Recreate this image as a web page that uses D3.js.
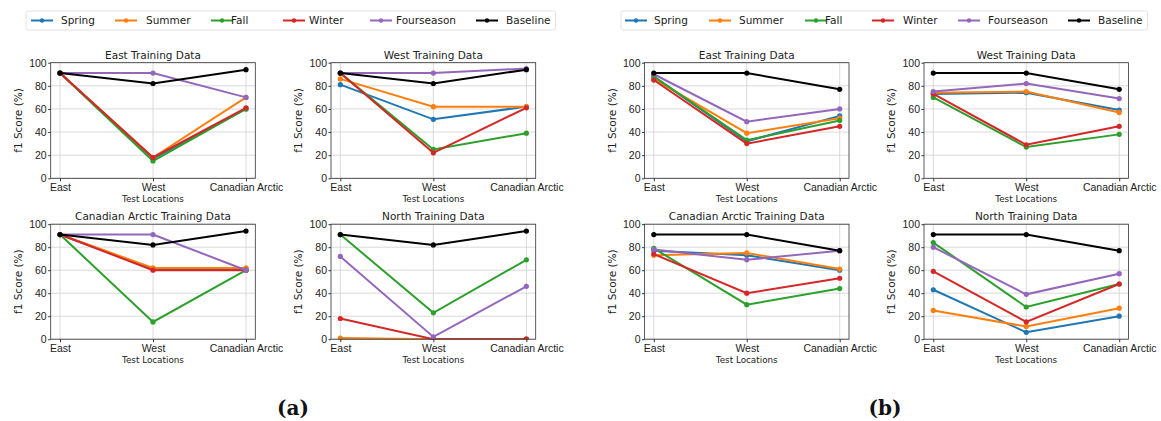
<!DOCTYPE html>
<html lang="en">
<head>
  <meta charset="UTF-8">
  <title>f1 Score by Training Data</title>
  <script src="https://d3js.org/d3.v7.min.js"></script>
  <style>
    body { background: #fff; margin: 0; }
    svg { display: block; font-family: "DejaVu Sans", sans-serif; }
    .grid line { stroke: #d0d0d0; stroke-width: 0.8; }
    .frame { fill: none; stroke: #333; stroke-width: 0.8; }
    .tick text { fill: #222; font-size: 10.5px; }
    .tick line { stroke: #333; }
  </style>
</head>
<body>
  <svg width="1161" height="421"></svg>

  <script>
    // series + categories
    const series = ["Spring", "Summer", "Fall", "Winter", "Fourseason", "Baseline"];
    const colors = ["#1f77b4", "#ff7f0e", "#2ca02c", "#d62728", "#9467bd", "#000000"];
    const locations = ["East", "West", "Canadian Arctic"];
    const titles = ["East Training Data", "West Training Data", "Canadian Arctic Training Data", "North Training Data"];
    const yTicks = [0, 20, 40, 60, 80, 100];

    // (a) values, one row per series: East, West, Canadian Arctic
    const aEast = [[91, 17, 60], [91, 18, 70], [91, 15, 60], [91, 18, 61], [91, 91, 70], [91, 82, 94]];
    const aWest = [[81, 51, 62], [86, 62, 62], [91, 25, 39], [91, 22, 61], [91, 91, 95], [91, 82, 94]];
    const aArctic = [[91, 61, 61], [91, 62, 62], [91, 15, 60], [91, 60, 60], [91, 91, 60], [91, 82, 94]];
    const aNorth = [[0, 0, 0], [1, 0, 0], [91, 23, 69], [18, 0, 0], [72, 2, 46], [91, 82, 94]];

    // (b) values
    const bEast = [[88, 32, 54], [86, 39, 52], [88, 33, 50], [85, 30, 45], [90, 49, 60], [91, 91, 77]];
    const bWest = [[73, 74, 59], [74, 75, 57], [70, 27, 38], [73, 29, 45], [75, 82, 69], [91, 91, 77]];
    const bArctic = [[77, 73, 60], [73, 75, 61], [79, 30, 44], [74, 40, 53], [78, 69, 77], [91, 91, 77]];
    const bNorth = [[43, 6, 20], [25, 11, 27], [84, 28, 48], [59, 15, 48], [80, 39, 57], [91, 91, 77]];

    const svg = d3.select("svg");
    const rowY = [[62.7, 178.3], [224.2, 339.2]];

    const groups = [
      { label: "(a)", labelX: 293, cols: [[50.7, 255.3], [331, 535.7]], data: [aEast, aWest, aArctic, aNorth],
        legendBox: [26, 555.5], lineX: [31, 115, 211, 283, 370, 476], textX: [61, 146, 231, 309, 396, 506] },
      { label: "(b)", labelX: 885, cols: [[644.5, 849], [924, 1128.5]], data: [bEast, bWest, bArctic, bNorth],
        legendBox: [621, 1147.5], lineX: [625, 709, 805, 872, 958, 1068], textX: [654, 739, 825, 903, 988, 1098] }
    ];

    let clipId = 0;

    function drawPanel(x0, x1, y0, y1, title, data) {
      // matplotlib puts 5% margins around the category span
      const x = d3.scaleLinear().domain([-0.1, 2.1]).range([x0, x1]);
      const y = d3.scaleLinear().domain([0, 100]).range([y1, y0]);
      const g = svg.append("g");

      // grid
      const grid = g.append("g").attr("class", "grid");
      grid.selectAll(".gy").data(yTicks).enter().append("line")
        .attr("x1", x0).attr("x2", x1).attr("y1", d => y(d)).attr("y2", d => y(d));
      grid.selectAll(".gx").data(locations).enter().append("line")
        .attr("x1", (d, i) => x(i)).attr("x2", (d, i) => x(i)).attr("y1", y0).attr("y2", y1);

      // lines, clipped to the axes like matplotlib does
      const id = "clip" + (clipId++);
      g.append("clipPath").attr("id", id).append("rect")
        .attr("x", x0).attr("y", y0).attr("width", x1 - x0).attr("height", y1 - y0);
      const plot = g.append("g").attr("clip-path", `url(#${id})`);
      const line = d3.line().x((d, i) => x(i)).y(d => y(d));
      data.forEach((vals, s) => {
        plot.append("path").datum(vals)
          .attr("d", line).attr("fill", "none")
          .attr("stroke", colors[s]).attr("stroke-width", 2);
        plot.selectAll(null).data(vals).enter().append("circle")
          .attr("cx", (d, i) => x(i)).attr("cy", d => y(d)).attr("r", 2.6)
          .attr("fill", colors[s]);
      });

      g.append("rect").attr("class", "frame")
        .attr("x", x0).attr("y", y0).attr("width", x1 - x0).attr("height", y1 - y0);

      // axes
      g.append("g").attr("transform", `translate(${x0},0)`)
        .call(d3.axisLeft(y).tickValues(yTicks).tickSize(2.5).tickPadding(1.5))
        .call(a => a.select(".domain").remove());
      g.append("g").attr("transform", `translate(0,${y1})`)
        .call(d3.axisBottom(x).tickValues([0, 1, 2]).tickFormat(i => locations[i]).tickSize(3).tickPadding(2.5))
        .call(a => a.select(".domain").remove());

      g.append("text").attr("x", (x0 + x1) / 2).attr("y", y0 - 4)
        .attr("text-anchor", "middle").attr("font-size", 10.5).attr("fill", "#222").text(title);
      g.append("text").attr("x", (x0 + x1) / 2).attr("y", y1 + 24)
        .attr("text-anchor", "middle").attr("font-size", 8.8).attr("fill", "#222").text("Test Locations");
      g.append("text")
        .attr("transform", `translate(${x0 - 29},${(y0 + y1) / 2}) rotate(-90)`)
        .attr("text-anchor", "middle").attr("font-size", 10.5).attr("fill", "#222").text("f1 Score (%)");
    }

    groups.forEach(gr => {
      gr.data.forEach((d, k) => {
        const col = gr.cols[k % 2];
        const row = rowY[Math.floor(k / 2)];
        drawPanel(col[0], col[1], row[0], row[1], titles[k], d);
      });

      // legend
      const lg = svg.append("g");
      lg.append("rect").attr("x", gr.legendBox[0]).attr("y", 11)
        .attr("width", gr.legendBox[1] - gr.legendBox[0]).attr("height", 19).attr("rx", 2)
        .attr("fill", "#fff").attr("stroke", "#dcdcdc").attr("stroke-width", 0.8);
      series.forEach((s, i) => {
        const lx = gr.lineX[i];
        lg.append("line").attr("x1", lx).attr("x2", lx + 22).attr("y1", 20.5).attr("y2", 20.5)
          .attr("stroke", colors[i]).attr("stroke-width", 2);
        lg.append("circle").attr("cx", lx + 11).attr("cy", 20.5).attr("r", 2.2).attr("fill", colors[i]);
        lg.append("text").attr("x", gr.textX[i]).attr("y", 24.3)
          .attr("font-size", 10.5).attr("fill", "#222").text(s);
      });

      svg.append("text").attr("x", gr.labelX).attr("y", 415)
        .attr("text-anchor", "middle").attr("font-family", "'DejaVu Serif', serif")
        .attr("font-weight", "bold").attr("font-size", 20).attr("fill", "#111").text(gr.label);
    });
  </script>
</body>
</html>
